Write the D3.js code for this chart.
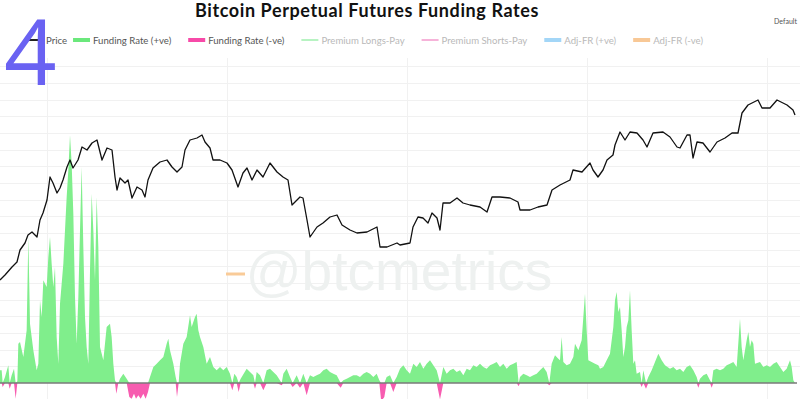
<!DOCTYPE html>
<html><head><meta charset="utf-8">
<script src="https://cdn.jsdelivr.net/npm/d3@7"></script>
<style>body{margin:0;background:#fff} svg{display:block}</style>
</head><body><svg id="c" width="800" height="399"></svg>
<script>
const W = 800, H = 399;

// legend
const legendNames = ["Price", "Funding Rate (+ve)", "Funding Rate (-ve)", "Premium Longs-Pay", "Premium Shorts-Pay", "Adj-FR (+ve)", "Adj-FR (-ve)"];
const legendColors = ["#222", "#6be87c", "#f74aa8", "#b7f3c2", "#f6b3d9", "#a3d6f7", "#f8c896"];
const legendHidden = [false, false, false, true, true, true, true];

// x = 8h funding period since start, price in USD
const price = [[0,6120],[15,6320],[36,6640],[51,6840],[60,7320],[75,7600],[84,7920],[96,8040],[111,7840],[120,8520],
 [129,8800],[141,9320],[150,10240],[159,10000],[171,9600],[180,9800],[189,10120],[201,10640],[210,10920],[219,10600],
 [234,10920],[246,11440],[261,11320],[276,11600],[291,11720],[306,10920],[321,11400],[336,11320],[345,10240],[351,9720],
 [360,10200],[375,10000],[384,10120],[396,9400],[411,9840],[426,9720],[435,9440],[444,10120],[459,10600],[480,10840],
 [501,10920],[516,10640],[531,10440],[546,10640],[555,11320],[570,11720],[591,11800],[606,11920],[615,11640],[630,11400],
 [639,10920],[660,10920],[681,10800],[696,10520],[714,9840],[729,10400],[741,10600],[756,10120],[771,10520],[789,10240],
 [810,10800],[831,10440],[849,10240],[864,10120],[876,9120],[900,9440],[909,9400],[921,8520],[930,7840],[951,8240],
 [969,8400],[990,8640],[1011,8720],[1026,8320],[1050,8120],[1071,8000],[1101,8040],[1131,8240],[1140,7440],[1161,7440],
 [1191,7600],[1200,7520],[1230,7600],[1239,8240],[1254,8640],[1269,8600],[1284,8400],[1296,8800],[1311,8600],[1320,8120],
 [1329,9200],[1350,9200],[1371,9400],[1389,9200],[1410,9120],[1440,9040],[1461,8840],[1476,9440],[1500,9440],[1530,9400],
 [1554,9240],[1560,8920],[1590,8920],[1614,9040],[1641,9120],[1656,9720],[1680,9920],[1710,10120],[1719,10520],[1746,10440],
 [1770,10800],[1779,10520],[1794,10240],[1809,10520],[1821,10920],[1839,11120],[1845,11520],[1860,12040],[1875,11720],[1890,12040],
 [1911,12000],[1929,11720],[1941,11440],[1959,12000],[1989,12040],[2010,11840],[2031,11440],[2040,11400],[2061,11920],[2070,11920],
 [2079,11000],[2091,11640],[2109,11600],[2130,11240],[2151,11640],[2175,11800],[2196,12000],[2214,12000],[2226,12800],[2244,13120],
 [2274,13320],[2286,13000],[2310,13000],[2331,13320],[2361,13120],[2379,12920],[2385,12720]];

// funding rate, % per 8h
const funding = [[0,0.0076],[5,0.0076],[8,-0.0024],[15,0.0036],[25,0.0106],[29,-0.0034],[35,0.0046],[42,0.0086],[47,-0.0094],[52,0.0010],
 [55,0.0236],[60,0.0246],[70,0.0156],[80,0.0316],[85,0.0876],[90,0.0356],[100,0.0196],[110,0.0076],[115,0.0116],[120,0.0496],
 [125,0.0396],[130,0.0616],[140,0.0576],[145,0.0756],[150,0.0876],[155,0.0716],[160,0.0576],[165,0.0696],[170,0.0276],[175,0.0116],
 [180,0.0476],[185,0.0596],[190,0.0716],[195,0.0916],[200,0.1116],[205,0.1276],[210,0.1486],[215,0.1316],[220,0.1016],[225,0.0516],
 [230,0.0236],[235,0.0516],[240,0.0916],[245,0.1296],[250,0.0816],[255,0.0396],[260,0.0216],[265,0.0116],[270,0.0676],[275,0.1136],
 [280,0.0916],[285,0.0616],[290,0.1116],[295,0.0816],[300,0.0216],[310,0.0136],[320,0.0336],[330,0.0356],[335,0.0276],[340,0.0116],
 [345,0.0016],[349,-0.0064],[355,0.0000],[360,0.0026],[370,0.0056],[380,0.0026],[388,-0.0084],[395,-0.0094],[402,-0.0064],[408,-0.0094],
 [415,-0.0074],[422,-0.0094],[430,-0.0064],[437,-0.0094],[444,-0.0054],[450,0.0036],[460,0.0096],[470,0.0116],[480,0.0136],[490,0.0156],
 [500,0.0236],[505,0.0266],[510,0.0196],[520,0.0116],[527,0.0036],[531,-0.0084],[536,0.0000],[540,0.0116],[550,0.0236],[560,0.0276],
 [570,0.0406],[575,0.0336],[585,0.0396],[590,0.0416],[595,0.0316],[600,0.0276],[610,0.0216],[620,0.0116],[630,0.0156],[640,0.0096],
 [650,0.0076],[660,0.0096],[670,0.0076],[680,0.0096],[690,0.0056],[697,-0.0044],[703,0.0056],[710,0.0036],[716,-0.0054],[722,0.0026],
 [740,0.0086],[750,0.0066],[760,0.0046],[765,-0.0034],[770,0.0066],[780,0.0046],[790,-0.0044],[800,0.0076],[810,0.0086],[820,0.0066],
 [830,0.0046],[845,-0.0014],[850,0.0056],[860,0.0086],[870,0.0036],[878,-0.0024],[890,0.0046],[900,-0.0028],[910,0.0056],[920,-0.0074],
 [930,0.0046],[940,0.0036],[950,0.0046],[960,0.0056],[970,0.0076],[980,0.0086],[990,0.0066],[1000,0.0056],[1010,0.0046],[1022,-0.0028],
 [1030,0.0016],[1040,0.0026],[1050,0.0036],[1060,0.0046],[1070,0.0046],[1080,0.0036],[1090,0.0056],[1100,0.0066],[1110,0.0056],[1120,0.0036],
 [1130,0.0056],[1138,0.0016],[1143,-0.0098],[1148,-0.0098],[1153,-0.0084],[1160,0.0036],[1170,0.0046],[1180,-0.0054],[1190,0.0036],[1200,0.0086],
 [1210,0.0106],[1220,0.0076],[1230,0.0056],[1240,0.0116],[1250,0.0096],[1260,0.0126],[1270,0.0086],[1280,0.0116],[1290,0.0136],[1300,0.0106],
 [1310,0.0076],[1320,-0.0098],[1330,0.0096],[1340,0.0056],[1350,0.0076],[1360,0.0086],[1370,0.0066],[1380,0.0076],[1390,0.0046],[1400,0.0086],
 [1410,0.0076],[1420,0.0106],[1430,0.0096],[1440,0.0116],[1450,0.0096],[1460,0.0086],[1470,0.0106],[1480,0.0116],[1490,0.0126],[1500,0.0096],
 [1510,0.0116],[1520,0.0086],[1530,0.0106],[1540,0.0116],[1550,0.0126],[1556,-0.0020],[1560,0.0036],[1570,0.0056],[1580,0.0046],[1590,0.0036],
 [1600,0.0046],[1610,0.0056],[1620,0.0076],[1630,0.0096],[1640,0.0066],[1648,-0.0014],[1655,0.0116],[1665,0.0166],[1675,0.0146],[1680,0.0136],
 [1685,0.0276],[1690,0.0126],[1700,0.0106],[1710,0.0116],[1720,0.0156],[1725,0.0236],[1735,0.0196],[1745,0.0256],[1750,0.0396],[1755,0.0536],
 [1760,0.0316],[1765,0.0136],[1775,0.0126],[1785,0.0116],[1795,0.0106],[1800,0.0086],[1810,0.0096],[1820,0.0136],[1830,0.0176],[1840,0.0336],
 [1845,0.0496],[1850,0.0546],[1855,0.0426],[1860,0.0456],[1865,0.0316],[1870,0.0156],[1875,0.0216],[1880,0.0336],[1885,0.0376],[1890,0.0556],
 [1895,0.0316],[1900,0.0116],[1905,0.0136],[1910,0.0056],[1920,0.0066],[1925,-0.0024],[1930,0.0076],[1938,-0.0034],[1945,0.0036],[1955,0.0076],
 [1965,0.0126],[1975,0.0176],[1985,0.0136],[1995,0.0106],[2010,0.0086],[2020,0.0096],[2030,0.0076],[2040,0.0086],[2050,0.0066],[2060,0.0096],
 [2070,0.0106],[2080,0.0076],[2090,0.0036],[2095,-0.0028],[2100,0.0026],[2110,0.0046],[2120,0.0056],[2130,0.0016],[2135,-0.0028],[2140,0.0076],
 [2150,0.0086],[2160,0.0076],[2170,0.0086],[2180,0.0106],[2190,0.0116],[2200,0.0126],[2210,0.0096],[2220,0.0386],[2225,0.0216],[2230,0.0136],
 [2240,0.0256],[2245,0.0306],[2250,0.0216],[2255,0.0256],[2260,0.0236],[2265,0.0116],[2280,0.0126],[2290,0.0096],[2300,0.0106],[2310,0.0096],
 [2320,0.0116],[2330,0.0126],[2340,0.0096],[2350,0.0066],[2360,0.0086],[2370,0.0136],[2375,0.0096],[2380,0.0016],[2385,0.0000]];

// small visible piece of Adj-FR (-ve)
const adjNeg = [[678,0.0654],[735,0.0654]];

// grid ticks
const xGridTicks = [141, 681, 1221, 1761, 2301];
const yGridTicks = d3.range(1, 20).map(i => i * 0.01);

const svg = d3.select("#c");

const x = d3.scaleLinear().domain([0, 2385]).range([0, 795]);
const yF = d3.scaleLinear().domain([0, 0.15]).range([383, 133]);
const yP = d3.scaleLinear().domain([2000, 14000]).range([383, 83]);

// grid
const grid = svg.append("g").attr("stroke", "#f1f1f1").attr("stroke-width", 1);
grid.selectAll("line.h").data(yGridTicks).join("line").attr("class", "h")
  .attr("x1", 0).attr("x2", W).attr("y1", d => Math.round(yF(d)) + 0.5).attr("y2", d => Math.round(yF(d)) + 0.5);
grid.selectAll("line.v").data(xGridTicks).join("line").attr("class", "v")
  .attr("x1", d => Math.round(x(d)) + 0.5).attr("x2", d => Math.round(x(d)) + 0.5).attr("y1", 58).attr("y2", H);

// watermark
svg.append("text").attr("x", 399).attr("y", 290).attr("text-anchor", "middle")
  .attr("font-family", "Liberation Sans, Arial, sans-serif").attr("font-size", 55)
  .attr("fill", "#eef1f0").text("@btcmetrics");

// funding areas
const areaPos = d3.area().x(d => x(d[0])).y0(yF(0)).y1(d => yF(Math.max(0, d[1])));
const areaNeg = d3.area().x(d => x(d[0])).y0(yF(0)).y1(d => yF(Math.min(0, d[1])));
svg.append("path").datum(funding).attr("d", areaPos).attr("fill", "#80ee8c");
svg.append("path").datum(funding).attr("d", areaNeg).attr("fill", "#f75cb0");

// zero line
svg.append("line").attr("x1", 0).attr("x2", 797).attr("y1", yF(0)).attr("y2", yF(0))
  .attr("stroke", "#7a7a7a").attr("stroke-width", 1.5);

// adj-fr piece
svg.append("path").datum(adjNeg).attr("d", d3.line().x(d => x(d[0])).y(d => yF(d[1])))
  .attr("stroke", "#f9cb98").attr("stroke-width", 3).attr("fill", "none");

// price
svg.append("path").datum(price)
  .attr("d", d3.line().x(d => x(d[0])).y(d => yP(d[1])))
  .attr("fill", "none").attr("stroke", "#111").attr("stroke-width", 1.3).attr("stroke-linejoin", "round");

// legend
const leg = svg.append("g").attr("font-family", "Lato, sans-serif").attr("font-size", 9.6);
let lx = 26;
legendNames.forEach((name, i) => {
  leg.append("line").attr("x1", lx).attr("x2", lx + 17).attr("y1", 40).attr("y2", 40)
    .attr("stroke", legendColors[i]).attr("stroke-width", (i === 0 || i === 3 || i === 4) ? 2 : 4);
  const t = leg.append("text").attr("x", lx + 20).attr("y", 43.5)
    .attr("fill", legendHidden[i] ? "#b9b9b9" : "#555").text(name);
  lx += 20 + t.node().getComputedTextLength() + (i === 0 ? 6 : 17);
});

// title
svg.append("text").attr("x", 367).attr("y", 17).attr("text-anchor", "middle")
  .attr("font-family", "Lato, sans-serif").attr("font-weight", 700).attr("font-size", 18)
  .attr("letter-spacing", 0.6).attr("fill", "#111").text("Bitcoin Perpetual Futures Funding Rates");

svg.append("text").attr("x", 797).attr("y", 24).attr("text-anchor", "end")
  .attr("font-family", "Lato, sans-serif").attr("font-size", 7).attr("fill", "#555").text("Default");

// big marker
svg.append("text").attr("x", 4).attr("y", 85)
  .attr("font-family", "Open Sans, sans-serif").attr("font-size", 92)
  .attr("fill", "#6a62f2").text("4");
</script></body></html>
